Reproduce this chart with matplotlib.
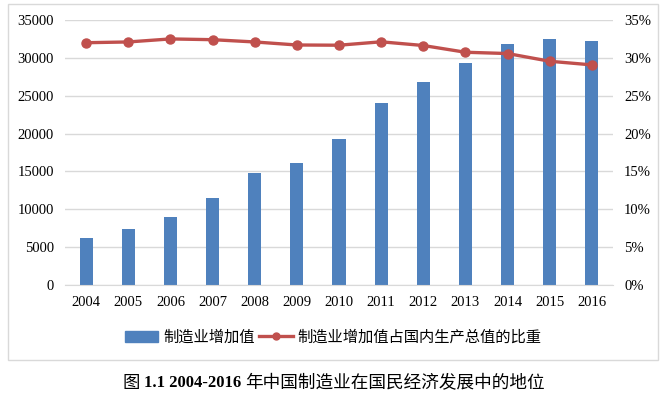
import numpy as np
import matplotlib.pyplot as plt
from matplotlib.patches import Rectangle
from matplotlib.lines import Line2D

years = ['2004', '2005', '2006', '2007', '2008', '2009', '2010',
         '2011', '2012', '2013', '2014', '2015', '2016']
value_added = [6270, 7380, 8970, 11455, 14790, 16110, 19260,
               24030, 26850, 29380, 31850, 32510, 32290]
gdp_share = [32.0, 32.1, 32.5, 32.4, 32.1, 31.7, 31.67,
             32.12, 31.63, 30.74, 30.57, 29.55, 29.07]

bar_label = '制造业增加值'
line_label = '制造业增加值占国内生产总值的比重'
caption_pre = '图 '
caption_num = '1.1 2004-2016 '
caption_txt = '年中国制造业在国民经济发展中的地位'

blue = '#4f81bd'
red = '#c0504d'
serif = ['Liberation Serif', 'Noto Sans CJK SC']
cjk = ['Noto Sans CJK SC', 'DejaVu Sans']

fig = plt.figure(figsize=(6.66, 4), dpi=100)

# chart frame
fig.patches.append(Rectangle((8 / 666, 40 / 400), 650 / 666, 356 / 400,
                             transform=fig.transFigure, fill=False,
                             edgecolor='#d9d9d9', linewidth=1))

ax = fig.add_axes([65 / 666, 115 / 400, 548 / 666, 265 / 400])
x = np.arange(len(years))
ax.bar(x, value_added, width=0.31, color=blue, zorder=2)
ax.set_xlim(-0.5, len(years) - 0.5)
ax.set_ylim(0, 35000)
ax.set_yticks(np.arange(0, 35001, 5000))
ax.set_xticks(x)
ax.set_xticklabels(years)
ax.yaxis.grid(True, color='#d9d9d9', linewidth=1)
ax.set_axisbelow(True)
for s in ['top', 'right', 'left']:
    ax.spines[s].set_visible(False)
ax.spines['bottom'].set_color('#d9d9d9')
ax.tick_params(length=0, labelsize=10.5, pad=8)
for lab in ax.get_xticklabels() + ax.get_yticklabels():
    lab.set_fontfamily(serif)

ax2 = ax.twinx()
ax2.plot(x, gdp_share, color=red, linewidth=2.4, marker='o', markersize=6.5, zorder=3)
ax2.set_ylim(0, 35)
ax2.set_yticks(np.arange(0, 36, 5))
ax2.set_yticklabels([f'{v}%' for v in range(0, 36, 5)])
for s in ['top', 'right', 'left', 'bottom']:
    ax2.spines[s].set_visible(False)
ax2.tick_params(length=0, labelsize=10.5, pad=8)
for lab in ax2.get_yticklabels():
    lab.set_fontfamily(serif)

handles = [Rectangle((0, 0), 1, 1, color=blue),
           Line2D([0], [0], color=red, linewidth=2.4, marker='o', markersize=5)]
fig.legend(handles, [bar_label, line_label], loc='center',
           bbox_to_anchor=(333 / 666, 1 - 337 / 400), ncol=2, frameon=False,
           prop={'family': cjk, 'size': 11}, handlelength=2.2,
           handletextpad=0.3, columnspacing=0.3)

# caption: regular 图, bold serif numbers, regular chinese text
ycap = 1 - 383 / 400
t0 = fig.text(123 / 666, ycap, caption_pre, fontsize=12.5,
              fontfamily=cjk, va='center', ha='left')
fig.canvas.draw()
bb = t0.get_window_extent()
t1 = fig.text(bb.x1 / 666, ycap, caption_num, fontsize=12,
              fontfamily=serif, fontweight='bold', va='center', ha='left')
fig.canvas.draw()
bb = t1.get_window_extent()
fig.text(bb.x1 / 666, ycap, caption_txt, fontsize=12.7,
         fontfamily=cjk, va='center', ha='left')

fig.savefig('out.png', dpi=100)
